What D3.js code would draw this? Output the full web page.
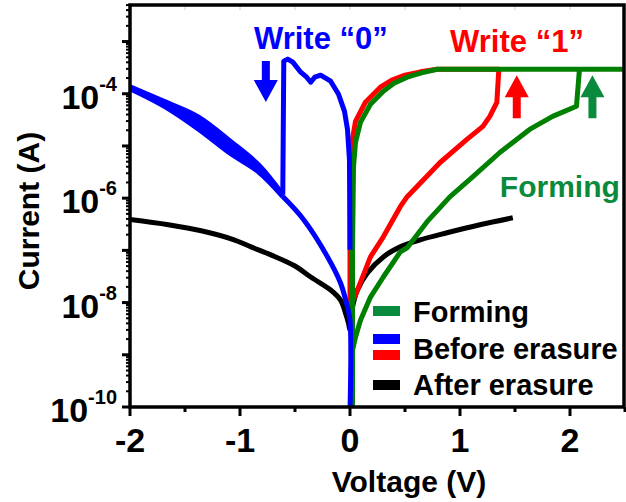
<!DOCTYPE html>
<html>
<head>
<meta charset="utf-8">
<script src="https://d3js.org/d3.v7.min.js"></script>
<style>
  body { margin: 0; background: #fff; }
  text { font-family: Arial, "Liberation Sans", sans-serif; font-weight: bold; }
</style>
</head>
<body>
<div id="chart"></div>
<script>
// data: [voltage, log10(current)]
var formingCurve = [
  [0.023, -10], [0.023, -8.913], [0.05, -8.663], [0.095, -8.337], [0.186, -7.894],
  [0.303, -7.51], [0.457, -7.029], [0.52, -6.95], [0.701, -6.45], [0.91, -5.97],
  [1.118, -5.587], [1.362, -5.125], [1.48, -4.933], [1.633, -4.683], [1.842, -4.433],
  [2.059, -4.24], [2.086, -3.53], [2.5, -3.53], [0.792, -3.53], [0.65, -3.6], [0.52, -3.683],
  [0.4, -3.8], [0.303, -3.952], [0.186, -4.202], [0.095, -4.548], [0.05, -4.933], [0.032, -5.394],
  [0.023, -6.99], [0.023, -10]
];
var beforePos = [
  [0, -8.087], [0.068, -7.76], [0.186, -7.125], [0.303, -6.74], [0.457, -6.163],
  [0.52, -5.971], [0.819, -5.317], [1.063, -4.875], [1.208, -4.625], [1.271, -4.433],
  [1.335, -4.163], [1.353, -3.53], [0.792, -3.53], [0.64, -3.58], [0.5, -3.644], [0.38, -3.74],
  [0.276, -3.875], [0.14, -4.163], [0.05, -4.529], [0.014, -4.97], [0.005, -5.45], [0, -6.99], [0, -8.087]
];
// negative sweep: the two near-parallel branches between -2 V and -0.61 V
var beforeNegLow = [
  [-0.611, -5.97], [-0.83, -5.5], [-1.08, -5.154], [-1.38, -4.673], [-1.68, -4.25], [-2, -3.904]
];
var beforeNegHigh = [
  [-0.611, -5.933], [-0.83, -5.365], [-1.08, -4.923], [-1.38, -4.442], [-1.68, -4.154], [-2, -3.865]
];
var beforeNegTail = [
  [0, -10.1], [0, -8.337], [-0.023, -8.087], [-0.086, -7.625], [-0.204, -7.125],
  [-0.421, -6.413], [-0.611, -5.97]
];
var beforeNegSet = [
  [-0.611, -5.933], [-0.602, -3.375], [-0.566, -3.337],
  [-0.52, -3.394], [-0.448, -3.587], [-0.394, -3.683], [-0.357, -3.779], [-0.321, -3.683],
  [-0.267, -3.644], [-0.176, -3.76], [-0.104, -4.01], [-0.05, -4.337], [-0.023, -4.68],
  [-0.005, -5.26], [0, -6.99]
];
var afterCurve = [
  [-2, -6.41], [-1.652, -6.51], [-1.353, -6.625], [-1.054, -6.798], [-0.9, -6.933],
  [-0.719, -7.087], [-0.5, -7.3], [-0.357, -7.51], [-0.176, -7.76],
  [-0.086, -7.952], [-0.041, -8.202], [-0.014, -8.394], [0, -8.53], [0.023, -8.087],
  [0.068, -7.76], [0.158, -7.433], [0.303, -7.125], [0.457, -6.933], [0.638, -6.798],
  [0.882, -6.663], [1.181, -6.51], [1.48, -6.375]
];

var xTicks = [-2, -1, 0, 1, 2];
var yTickExps = [-10, -8, -6, -4];
var legendNames = ["Forming", "Before erasure", "After erasure"];

var green = "#008000", greenLight = "#0a8a3c", blue = "#0000ff", red = "#ff0000";

var width = 626, height = 502;
var margin = {left: 130, right: 1, top: 5, bottom: 95};

var svg = d3.select("#chart").append("svg")
    .attr("width", width)
    .attr("height", height);

var x = d3.scaleLinear()
    .domain([-2, 2.5])
    .range([margin.left, width - margin.right]);
var y = d3.scaleLog()
    .domain([1e-10, Math.pow(10, -2.3)])
    .range([height - margin.bottom, margin.top]);

svg.append("clipPath").attr("id", "clip")
  .append("rect")
    .attr("x", margin.left).attr("y", margin.top)
    .attr("width", width - margin.right - margin.left)
    .attr("height", height - margin.bottom - margin.top);

// straight segments for curves with sharp corners, smooth for the rest
var line = d3.line()
    .x(function(d) { return x(d[0]); })
    .y(function(d) { return y(Math.pow(10, d[1])); });
var smooth = d3.line()
    .curve(d3.curveCatmullRom.alpha(0.5))
    .x(function(d) { return x(d[0]); })
    .y(function(d) { return y(Math.pow(10, d[1])); });

var plot = svg.append("g").attr("clip-path", "url(#clip)");

// curves, in the order they overlap
[[afterCurve, "#000", smooth], [beforePos, red, line], [formingCurve, green, line],
 [beforeNegTail, blue, smooth], [beforeNegLow, blue, smooth], [beforeNegHigh, blue, smooth],
 [beforeNegSet, blue, line]]
  .forEach(function(c) {
    plot.append("path")
      .datum(c[0])
      .attr("d", c[2])
      .attr("fill", "none")
      .attr("stroke", c[1])
      .attr("stroke-width", 5)
      .attr("stroke-linejoin", "round");
  });

// fill between the two blue branches (they merge into one band)
var band = d3.area()
    .curve(d3.curveCatmullRom.alpha(0.5))
    .x(function(d, i) { return x(d[0]); })
    .y0(function(d, i) { return y(Math.pow(10, beforeNegLow[i][1])); })
    .y1(function(d) { return y(Math.pow(10, d[1])); });
plot.append("path")
    .datum(beforeNegHigh)
    .attr("d", band)
    .attr("fill", blue);

// bottom axis ticks
var x0 = x.range()[0], x1 = x.range()[1], yb = y.range()[0], yt = y.range()[1];
d3.range(-2, 2.51, 0.5).forEach(function(v) {
  var major = Math.abs(v - Math.round(v)) < 1e-6;
  svg.append("line")
    .attr("x1", x(v)).attr("x2", x(v))
    .attr("y1", yb).attr("y2", yb + (major ? 9 : 5))
    .attr("stroke", "#000").attr("stroke-width", 3);
  svg.append("line")
    .attr("x1", x(v)).attr("x2", x(v))
    .attr("y1", yt).attr("y2", yt + 5)
    .attr("stroke", "#ccc").attr("stroke-width", 1);
});
svg.selectAll(".xlab")
  .data(xTicks)
  .enter().append("text")
    .attr("x", function(d) { return x(d); })
    .attr("y", 452)
    .attr("text-anchor", "middle")
    .style("font-size", "34px")
    .text(function(d) { return d; });

// left axis ticks (log)
for (var e = -10; e <= -3; e++) {
  for (var m = 1; m <= 9; m++) {
    var v = m * Math.pow(10, e);
    if (v > y.domain()[1]) break;
    svg.append("line")
      .attr("x1", x0 - (m == 1 ? 8 : 4)).attr("x2", x0)
      .attr("y1", y(v)).attr("y2", y(v))
      .attr("stroke", "#000").attr("stroke-width", m == 1 ? 3 : 2);
  }
}
var ylab = svg.selectAll(".ylab")
  .data(yTickExps)
  .enter().append("text")
    .attr("x", 117)
    .attr("y", function(d) { return y(Math.pow(10, d)) + 15; })
    .attr("text-anchor", "end")
    .style("font-size", "34px");
ylab.append("tspan").text("10");
ylab.append("tspan")
    .attr("dy", -18)
    .style("font-size", "20px")
    .text(function(d) { return d; });

// frame
svg.append("rect")
    .attr("x", x0).attr("y", yt)
    .attr("width", x1 - x0 - 1).attr("height", yb - yt)
    .attr("fill", "none").attr("stroke", "#000").attr("stroke-width", 3.5);

// axis titles
svg.append("text")
    .attr("x", 409).attr("y", 492)
    .attr("text-anchor", "middle")
    .style("font-size", "30px")
    .text("Voltage (V)");
svg.append("text")
    .attr("transform", "translate(39,211) rotate(-90)")
    .attr("text-anchor", "middle")
    .style("font-size", "30px")
    .text("Current (A)");

// annotations
function arrow(v, tipExp, tailExp, color) {
  var cx = x(v), ty = y(Math.pow(10, tipExp)), by = y(Math.pow(10, tailExp));
  var dir = by > ty ? 1 : -1, hb = ty + dir * 22;
  var p = d3.path();
  p.moveTo(cx, ty); p.lineTo(cx + 12, hb); p.lineTo(cx + 4, hb); p.lineTo(cx + 4, by);
  p.lineTo(cx - 4, by); p.lineTo(cx - 4, hb); p.lineTo(cx - 12, hb); p.closePath();
  svg.append("path").attr("d", p.toString()).attr("fill", color);
}
arrow(-0.765, -4.16, -3.375, blue);
arrow(1.516, -3.644, -4.47, red);
arrow(2.204, -3.644, -4.47, greenLight);

svg.append("text")
    .attr("x", x(-0.873)).attr("y", y(Math.pow(10, -3.144)))
    .attr("fill", blue).style("font-size", "31px")
    .text("Write \u201c0\u201d");
svg.append("text")
    .attr("x", x(0.91)).attr("y", y(Math.pow(10, -3.2)))
    .attr("fill", red).style("font-size", "31px")
    .text("Write \u201c1\u201d");
svg.append("text")
    .attr("x", x(1.362)).attr("y", y(Math.pow(10, -5.97)))
    .attr("fill", greenLight).style("font-size", "30px")
    .text("Forming");

// legend
var legend = svg.append("g").attr("transform", "translate(373,0)");
var swatches = [[311, greenLight], [339, blue], [355, red], [385, "#000"]];
swatches.forEach(function(s) {
  legend.append("rect")
    .attr("x", 0).attr("y", s[0] - 5)
    .attr("width", 27).attr("height", 10)
    .attr("fill", s[1]);
});
legend.selectAll(".leg")
  .data(legendNames)
  .enter().append("text")
    .attr("x", 40)
    .attr("y", function(d, i) { return 322 + i * 36.5; })
    .style("font-size", "29px")
    .text(function(d) { return d; });
</script>
</body>
</html>
